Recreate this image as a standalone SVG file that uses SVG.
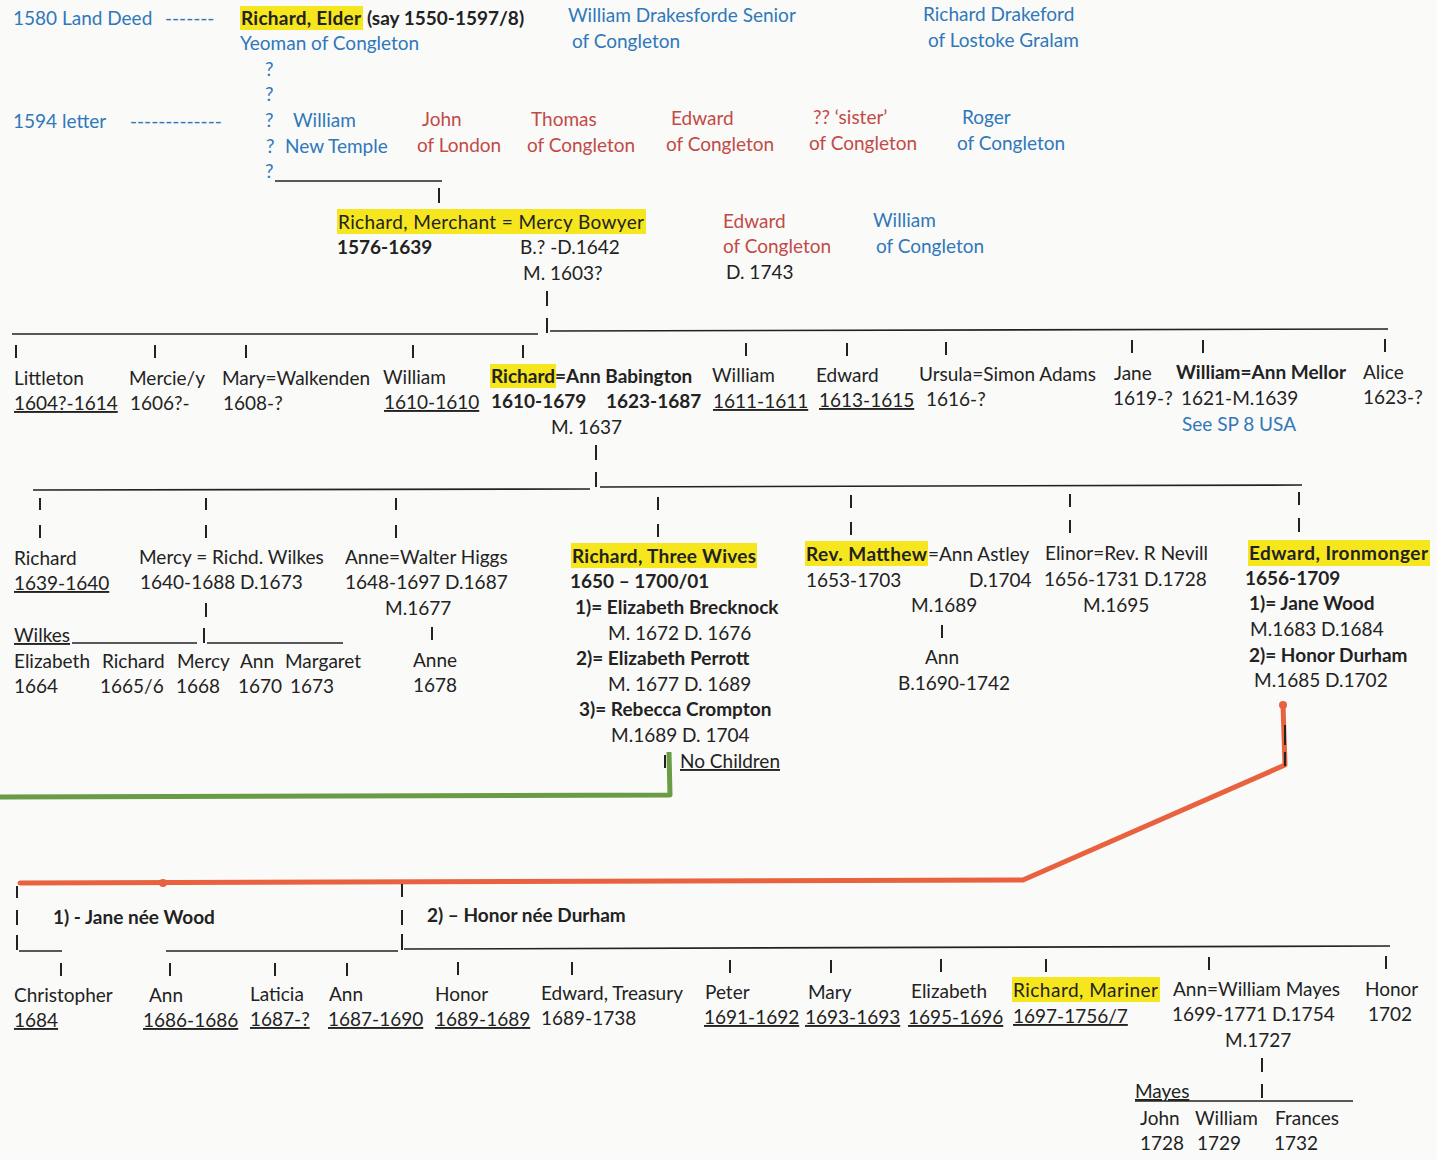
<svg xmlns="http://www.w3.org/2000/svg" width="1437" height="1160" viewBox="0 0 1437 1160">
<style>
text{font-family:Lato,"Liberation Sans",sans-serif;font-size:19px;fill:#222}
.b{font-weight:700}
.bl{fill:#2f78b9}
.rd{fill:#c24a46}
.u{text-decoration:underline}
.hl{fill:#f6e61e}
.ln{stroke:#222;stroke-width:1.6;fill:none}
.tk{stroke:#222;stroke-width:2;fill:none}
.red{stroke:#e8623f;stroke-width:5;fill:none;stroke-linecap:round;stroke-linejoin:round}
.grn{stroke:#6a9b45;stroke-width:5;fill:none;stroke-linejoin:round}
</style>
<rect width="1437" height="1160" fill="#fafaf9"/>
<g id="connectors">
<line class="ln" x1="275" y1="181" x2="442" y2="181"/>
<line class="tk" x1="439" y1="188" x2="439" y2="203"/>
<line class="tk" x1="547" y1="291" x2="547" y2="306"/>
<line class="tk" x1="547" y1="318" x2="547" y2="333"/>
<line class="ln" x1="12" y1="334" x2="538" y2="334"/>
<line class="ln" x1="550" y1="331" x2="1388" y2="329"/>
<g class="tk">
<line x1="16" y1="345" x2="16" y2="358"/><line x1="155" y1="345" x2="155" y2="358"/><line x1="246" y1="345" x2="246" y2="358"/><line x1="413" y1="345" x2="413" y2="358"/><line x1="523" y1="345" x2="523" y2="358"/><line x1="746" y1="343" x2="746" y2="356"/><line x1="847" y1="343" x2="847" y2="356"/><line x1="946" y1="342" x2="946" y2="355"/><line x1="1132" y1="340" x2="1132" y2="353"/><line x1="1203" y1="340" x2="1203" y2="353"/><line x1="1385" y1="339" x2="1385" y2="352"/>
</g>
<line class="tk" x1="596" y1="445" x2="596" y2="460"/>
<line class="tk" x1="596" y1="472" x2="596" y2="487"/>
<line class="ln" x1="33" y1="490" x2="590" y2="489"/>
<line class="ln" x1="600" y1="487" x2="1302" y2="485"/>
<g class="tk">
<line x1="40" y1="498" x2="40" y2="510"/><line x1="40" y1="525" x2="40" y2="538"/>
<line x1="206" y1="498" x2="206" y2="510"/><line x1="206" y1="525" x2="206" y2="538"/>
<line x1="396" y1="498" x2="396" y2="510"/><line x1="396" y1="525" x2="396" y2="538"/>
<line x1="658" y1="497" x2="658" y2="510"/><line x1="658" y1="524" x2="658" y2="537"/>
<line x1="851" y1="495" x2="851" y2="508"/><line x1="851" y1="522" x2="851" y2="535"/>
<line x1="1070" y1="494" x2="1070" y2="507"/><line x1="1070" y1="520" x2="1070" y2="533"/>
<line x1="1299" y1="492" x2="1299" y2="505"/><line x1="1299" y1="518" x2="1299" y2="532"/>
<line x1="206" y1="603" x2="206" y2="617"/>
<line x1="204" y1="628" x2="204" y2="643"/>
<line x1="432" y1="627" x2="432" y2="640"/>
<line x1="942" y1="625" x2="942" y2="638"/>
</g>
<line class="ln" x1="72" y1="643" x2="197" y2="643"/>
<line class="ln" x1="207" y1="643" x2="343" y2="643"/>
<polyline class="grn" points="0,797 670,795 669,752"/>
<line class="tk" x1="665" y1="755" x2="665" y2="768"/>
<polyline class="red" points="1283,705 1285,765 1023,880 20,883"/>
<circle cx="1283" cy="705" r="4" fill="#e8623f"/>
<circle cx="163" cy="883" r="4" fill="#e8623f"/>
<line class="tk" x1="1285" y1="725" x2="1285" y2="745"/>
<line class="tk" x1="1285" y1="752" x2="1285" y2="766"/>
<g class="tk">
<line x1="17" y1="886" x2="17" y2="898"/><line x1="17" y1="910" x2="17" y2="925"/><line x1="17" y1="935" x2="17" y2="950"/>
<line x1="402" y1="884" x2="402" y2="897"/><line x1="402" y1="910" x2="402" y2="925"/><line x1="402" y1="934" x2="402" y2="950"/>
</g>
<line class="ln" x1="19" y1="951" x2="62" y2="951"/>
<line class="ln" x1="166" y1="951" x2="398" y2="951"/>
<line class="ln" x1="404" y1="949" x2="1390" y2="946"/>
<g class="tk">
<line x1="61" y1="963" x2="61" y2="976"/><line x1="170" y1="963" x2="170" y2="976"/><line x1="275" y1="963" x2="275" y2="976"/><line x1="347" y1="963" x2="347" y2="976"/><line x1="458" y1="962" x2="458" y2="975"/><line x1="572" y1="962" x2="572" y2="975"/><line x1="730" y1="960" x2="730" y2="973"/><line x1="831" y1="960" x2="831" y2="973"/><line x1="941" y1="959" x2="941" y2="972"/><line x1="1046" y1="959" x2="1046" y2="972"/><line x1="1209" y1="957" x2="1209" y2="970"/><line x1="1386" y1="956" x2="1386" y2="969"/>
<line x1="1262" y1="1058" x2="1262" y2="1072"/><line x1="1262" y1="1084" x2="1262" y2="1098"/>
</g>
<line class="ln" x1="1135" y1="1101" x2="1353" y2="1101"/>
</g>

<g id="source-1580">
<text class="bl" x="13" y="25">1580 Land Deed</text><text class="bl" x="165" y="25">-------</text>
</g>
<g id="source-1594">
<text class="bl" x="13" y="128">1594 letter</text><text class="bl" x="130" y="128">-------------</text>
</g>
<g id="richard-elder">
<rect class="hl" x="240" y="6" width="123" height="24"/>
<text x="241" y="25" class="b" textLength="120" lengthAdjust="spacing">Richard, Elder</text>
<text x="367" y="25" class="b">(say 1550-1597/8)</text>
<text class="bl" x="240" y="50">Yeoman of Congleton</text>
<text class="bl" x="265" y="76">?</text>
<text class="bl" x="265" y="101">?</text>
<text class="bl" x="265" y="178">?</text>
</g>
<g id="william-drakesforde">
<text class="bl" x="568" y="22">William Drakesforde Senior</text>
<text class="bl" x="572" y="48">of Congleton</text>
</g>
<g id="richard-drakeford">
<text class="bl" x="923" y="21">Richard Drakeford</text>
<text class="bl" x="928" y="47">of Lostoke Gralam</text>
</g>
<g id="william-new-temple">
<text class="bl" x="265" y="127">?</text><text class="bl" x="293" y="127">William</text>
<text class="bl" x="266" y="153">?</text><text class="bl" x="285" y="153">New Temple</text>
</g>
<g id="john-london">
<text class="rd" x="422" y="126">John</text>
<text class="rd" x="417" y="152">of London</text>
</g>
<g id="thomas">
<text class="rd" x="531" y="126">Thomas</text>
<text class="rd" x="527" y="152">of Congleton</text>
</g>
<g id="edward-1594">
<text class="rd" x="671" y="125">Edward</text>
<text class="rd" x="666" y="151">of Congleton</text>
</g>
<g id="sister">
<text class="rd" x="813" y="124">??  ‘sister’</text>
<text class="rd" x="809" y="150">of Congleton</text>
</g>
<g id="roger">
<text class="bl" x="962" y="124">Roger</text>
<text class="bl" x="957" y="150">of Congleton</text>
</g>

<g id="richard-merchant">
<rect class="hl" x="337" y="209" width="309" height="25"/>
<text x="338" y="229" textLength="306" lengthAdjust="spacing">Richard, Merchant = Mercy Bowyer</text>
<text class="b" x="337" y="254">1576-1639</text>
<text x="520" y="254">B.? -D.1642</text>
<text x="523" y="280">M. 1603?</text>
</g>
<g id="edward-1743">
<text class="rd" x="723" y="228">Edward</text>
<text class="rd" x="723" y="253">of Congleton</text>
<text x="726" y="279">D. 1743</text>
</g>
<g id="william-congleton">
<text class="bl" x="873" y="227">William</text>
<text class="bl" x="876" y="253">of Congleton</text>
</g>

<g id="littleton"><text x="14" y="385">Littleton</text><text class="u" x="14" y="410">1604?-1614</text></g>
<g id="mercie"><text x="129" y="385">Mercie/y</text><text x="130" y="410">1606?-</text></g>
<g id="mary"><text x="222" y="385">Mary=Walkenden</text><text x="223" y="410">1608-?</text></g>
<g id="william-1610"><text x="383" y="384">William</text><text class="u" x="384" y="409">1610-1610</text></g>
<g id="richard-ann-babington">
<rect class="hl" x="490" y="364" width="66" height="24"/>
<text class="b" x="491" y="383">Richard=Ann Babington</text>
<text class="b" x="491" y="408">1610-1679</text>
<text class="b" x="606" y="408">1623-1687</text>
<text x="551" y="434">M. 1637</text>
</g>
<g id="william-1611"><text x="712" y="382">William</text><text class="u" x="713" y="408">1611-1611</text></g>
<g id="edward-1613"><text x="816" y="382">Edward</text><text class="u" x="819" y="407">1613-1615</text></g>
<g id="ursula"><text x="919" y="381">Ursula=Simon Adams</text><text x="926" y="406">1616-?</text></g>
<g id="jane"><text x="1114" y="380">Jane</text><text x="1113" y="405">1619-?</text></g>
<g id="william-mellor"><text class="b" x="1176" y="379">William=Ann Mellor</text><text x="1181" y="405">1621-M.1639</text><text class="bl" x="1182" y="431">See SP 8 USA</text></g>
<g id="alice"><text x="1363" y="379">Alice</text><text x="1363" y="404">1623-?</text></g>

<g id="richard-1639"><text x="14" y="565">Richard</text><text class="u" x="14" y="590">1639-1640</text></g>
<g id="mercy-wilkes">
<text x="139" y="564">Mercy = Richd. Wilkes</text>
<text x="140" y="589">1640-1688 D.1673</text>
<text class="u" x="14" y="642">Wilkes</text>
<text x="14" y="668">Elizabeth</text><text x="102" y="668">Richard</text><text x="177" y="668">Mercy</text><text x="240" y="668">Ann</text><text x="285" y="668">Margaret</text>
<text x="14" y="693">1664</text><text x="100" y="693">1665/6</text><text x="176" y="693">1668</text><text x="238" y="693">1670</text><text x="290" y="693">1673</text>
</g>
<g id="anne-higgs">
<text x="345" y="564">Anne=Walter Higgs</text>
<text x="345" y="589">1648-1697  D.1687</text>
<text x="385" y="615">M.1677</text>
<text x="413" y="667">Anne</text>
<text x="413" y="692">1678</text>
</g>
<g id="richard-three-wives">
<rect class="hl" x="571" y="543" width="186" height="25"/>
<text class="b" x="572" y="563" textLength="184" lengthAdjust="spacing">Richard, Three Wives</text>
<text class="b" x="570" y="588">1650 – 1700/01</text>
<text class="b" x="575" y="614">1)= Elizabeth Brecknock</text>
<text x="608" y="640">M. 1672 D. 1676</text>
<text class="b" x="576" y="665">2)= Elizabeth Perrott</text>
<text x="608" y="691">M. 1677 D. 1689</text>
<text class="b" x="579" y="716">3)= Rebecca Crompton</text>
<text x="611" y="742">M.1689  D. 1704</text>
<text class="u" x="680" y="768">No Children</text>
</g>
<g id="rev-matthew">
<rect class="hl" x="805" y="541" width="123" height="25"/>
<text class="b" x="806" y="561" textLength="121" lengthAdjust="spacing">Rev. Matthew</text>
<text x="928" y="561">=Ann Astley</text>
<text x="806" y="587">1653-1703</text>
<text x="969" y="587">D.1704</text>
<text x="911" y="612">M.1689</text>
<text x="925" y="664">Ann</text>
<text x="898" y="690">B.1690-1742</text>
</g>
<g id="elinor">
<text x="1045" y="560">Elinor=Rev. R Nevill</text>
<text x="1044" y="586">1656-1731 D.1728</text>
<text x="1083" y="612">M.1695</text>
</g>
<g id="edward-ironmonger">
<rect class="hl" x="1248" y="540" width="182" height="26"/>
<text class="b" x="1249" y="560" textLength="179" lengthAdjust="spacing">Edward, Ironmonger</text>
<text class="b" x="1245" y="585">1656-1709</text>
<text class="b" x="1249" y="610">1)= Jane  Wood</text>
<text x="1250" y="636">M.1683 D.1684</text>
<text class="b" x="1249" y="662">2)= Honor Durham</text>
<text x="1254" y="687">M.1685 D.1702</text>
</g>

<g id="wife1-jane"><text class="b" x="53" y="924">1) - Jane née Wood</text></g>
<g id="wife2-honor"><text class="b" x="427" y="922">2) – Honor née Durham</text></g>
<g id="christopher"><text x="14" y="1002">Christopher</text><text class="u" x="14" y="1027">1684</text></g>
<g id="ann-1686"><text x="149" y="1002">Ann</text><text class="u" x="143" y="1027">1686-1686</text></g>
<g id="laticia"><text x="250" y="1001">Laticia</text><text class="u" x="250" y="1026">1687-?</text></g>
<g id="ann-1687"><text x="329" y="1001">Ann</text><text class="u" x="328" y="1026">1687-1690</text></g>
<g id="honor-1689"><text x="435" y="1001">Honor</text><text class="u" x="435" y="1026">1689-1689</text></g>
<g id="edward-treasury"><text x="541" y="1000">Edward, Treasury</text><text x="541" y="1025">1689-1738</text></g>
<g id="peter"><text x="705" y="999">Peter</text><text class="u" x="704" y="1024">1691-1692</text></g>
<g id="mary-1693"><text x="808" y="999">Mary</text><text class="u" x="805" y="1024">1693-1693</text></g>
<g id="elizabeth-1695"><text x="911" y="998">Elizabeth</text><text class="u" x="908" y="1024">1695-1696</text></g>
<g id="richard-mariner">
<rect class="hl" x="1012" y="977" width="148" height="25"/>
<text x="1013" y="997" textLength="145" lengthAdjust="spacing">Richard, Mariner</text>
<text class="u" x="1013" y="1023">1697-1756/7</text>
</g>
<g id="ann-mayes">
<text x="1173" y="996">Ann=William Mayes</text>
<text x="1172" y="1021">1699-1771  D.1754</text>
<text x="1225" y="1047">M.1727</text>
<text class="u" x="1135" y="1098">Mayes</text>
<text x="1140" y="1125">John</text><text x="1195" y="1125">William</text><text x="1275" y="1125">Frances</text>
<text x="1140" y="1150">1728</text><text x="1197" y="1150">1729</text><text x="1274" y="1150">1732</text>
</g>
<g id="honor-1702"><text x="1365" y="996">Honor</text><text x="1368" y="1021">1702</text></g>
</svg>
